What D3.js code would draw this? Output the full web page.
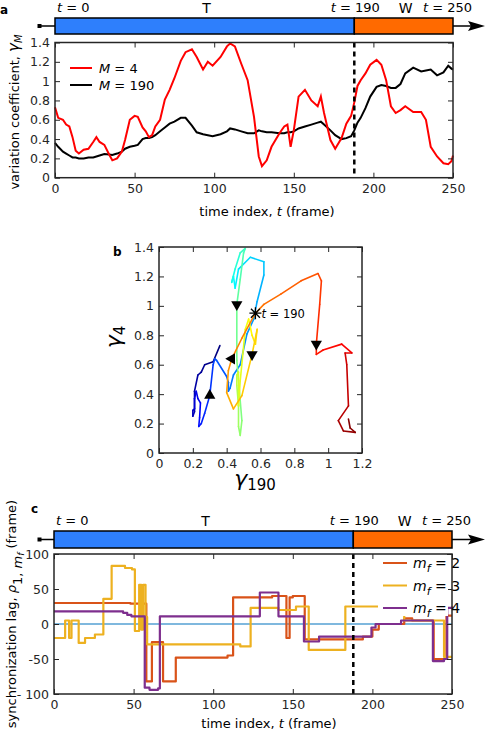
<!DOCTYPE html>
<html>
<head>
<meta charset="utf-8">
<script src="https://cdn.jsdelivr.net/npm/d3@7"></script>
<style>
  body { margin: 0; background: #fff; }
  svg { font-family: "DejaVu Sans", sans-serif; }
</style>
</head>
<body>
<div id="chart"></div>
<script>
// Time index shared by panel a and panel b
const frames = [0, 2, 5, 7, 9, 11, 13, 15, 18, 21, 24, 26, 28, 31, 34, 36, 39, 42, 44, 47, 50, 52, 55, 57, 59, 61, 63, 66, 69, 72, 75, 79, 82, 86, 89, 93, 96, 99, 104, 108, 110, 113, 117, 121, 125, 128, 130, 133, 136, 141, 144, 146, 148, 150, 153, 157, 161, 165, 167, 169, 173, 176, 180, 183, 186, 188, 190, 192, 195, 198, 202, 205, 208, 211, 214, 217, 220, 225, 230, 233, 236, 240, 244, 247, 249, 250]

// variation coefficient, M = 4
const gamma4 = [0.73, 0.62, 0.60, 0.55, 0.53, 0.42, 0.28, 0.25, 0.29, 0.30, 0.37, 0.42, 0.37, 0.34, 0.24, 0.18, 0.20, 0.27, 0.39, 0.60, 0.64, 0.63, 0.52, 0.48, 0.42, 0.44, 0.53, 0.60, 0.81, 0.91, 1.03, 1.21, 1.30, 1.33, 1.25, 1.12, 1.20, 1.16, 1.25, 1.36, 1.39, 1.36, 1.18, 1.01, 0.63, 0.22, 0.12, 0.18, 0.32, 0.46, 0.53, 0.55, 0.32, 0.49, 0.84, 0.91, 0.80, 0.74, 0.84, 0.67, 0.39, 0.30, 0.41, 0.56, 0.64, 0.78, 0.95, 1.01, 1.08, 1.17, 1.22, 1.17, 1.01, 0.74, 0.67, 0.70, 0.74, 0.68, 0.68, 0.60, 0.32, 0.22, 0.15, 0.14, 0.17, 0.23]

// variation coefficient, M = 190
const gamma190 = [0.36, 0.32, 0.27, 0.25, 0.23, 0.21, 0.21, 0.20, 0.20, 0.21, 0.21, 0.22, 0.23, 0.245, 0.24, 0.235, 0.25, 0.27, 0.30, 0.32, 0.33, 0.34, 0.40, 0.41, 0.41, 0.42, 0.44, 0.48, 0.52, 0.56, 0.58, 0.62, 0.62, 0.54, 0.47, 0.45, 0.44, 0.43, 0.45, 0.48, 0.51, 0.50, 0.48, 0.46, 0.46, 0.49, 0.48, 0.47, 0.47, 0.46, 0.46, 0.47, 0.47, 0.48, 0.51, 0.53, 0.55, 0.57, 0.58, 0.55, 0.49, 0.44, 0.40, 0.41, 0.43, 0.49, 0.57, 0.62, 0.72, 0.84, 0.94, 0.96, 0.95, 0.93, 0.93, 0.97, 1.08, 1.14, 1.10, 1.11, 1.12, 1.06, 1.09, 1.16, 1.13, 1.12]

// Phases shown in the time bar
const phaseStart = [0, 188]
const phaseEnd = [188, 250]
const phaseNames = ['T', 'W']
const phaseColors = ['#2e7ffc', '#ff6a00']
const markLabels = ['0', '190', '250']
const markTimes = [0, 188, 250]

// Direction markers in panel b (frame index, pointing angle)
const arrowFrames = [44, 121, 169, 186, 211]
const arrowAngles = [0, 180, 180, -90, 180]
const starFrame = 190

// Synchronization lag, panel c (step change points)
const lagT2 = [0, 48, 58, 61.5, 68.5, 76.5, 109, 112.5, 137, 146, 148, 150, 157.5, 194, 200, 204, 220, 225, 238.5, 246.5, 250]
const lag2 = [30, 29, -82, -26, -82, -48, -45, 38, 40, -20, 38, 40, -22, -18, -8, 0, 8, 5, -50, 12, 12]
const lagT3 = [0, 7, 9.5, 11, 15.5, 19.5, 25.7, 31, 36.2, 44.6, 49, 50.8, 53.5, 54.8, 56, 57.5, 58.5, 117, 123.5, 141, 152, 160, 183, 215, 220, 245, 250]
const lag3 = [-20, 5, -20, 5, -27, -20, -15, 36, 83, 80, 78, -10, 56, -8, 56, 10, -29, -32, 23, 20, 25, -37, 25, 15, 5, -47, -47]
const lagT4 = [0, 43.4, 46, 48.6, 57, 60, 65.4, 66.5, 129.3, 141, 157, 166.5, 199.4, 202, 218, 238, 245, 247, 250]
const lag4 = [18, 16, 13, 11, -91, -94, -92, 11, 45, 11, -25, -18, -5, 0, 5, -53, -50, 23, 25]
const lagNames = ['2', '3', '4']
const lagColors = ['#d95319', '#edb120', '#7e2f8e']

const width = 486
const height = 734
const axisColor = '#262626'

const svg = d3.select('#chart').append('svg').attr('width', width).attr('height', height)

// jet colour map (MATLAB style)
const jet = v => {
  const c = k => Math.round(255 * Math.max(0, Math.min(1, 1.5 - Math.abs(4 * v - k))))
  return d3.rgb(c(3), c(2), c(1)).formatHex()
}

// Box with inward ticks on all sides
function drawFrame(g, x, y, xTicks, yTicks, xFmt, yFmt, m) {
  g.append('g')
    .attr('transform', `translate(0,${m.bottom})`)
    .call(d3.axisBottom(x).tickValues(xTicks).tickSize(-5).tickSizeOuter(0).tickPadding(6).tickFormat(xFmt))
  g.append('g')
    .attr('transform', `translate(0,${m.top})`)
    .call(d3.axisTop(x).tickValues(xTicks).tickSize(-5).tickSizeOuter(0).tickFormat(''))
  g.append('g')
    .attr('transform', `translate(${m.left},0)`)
    .call(d3.axisLeft(y).tickValues(yTicks).tickSize(-5).tickSizeOuter(0).tickPadding(5).tickFormat(yFmt))
  g.append('g')
    .attr('transform', `translate(${m.right},0)`)
    .call(d3.axisRight(y).tickValues(yTicks).tickSize(-5).tickSizeOuter(0).tickFormat(''))
  g.selectAll('.domain').remove()
  g.selectAll('.tick line').attr('stroke', axisColor).attr('stroke-width', 1)
  g.selectAll('.tick text').attr('fill', axisColor).style('font-size', '12.5px').style('font-family', '"DejaVu Sans", sans-serif')
  g.append('rect')
    .attr('x', m.left).attr('y', m.top)
    .attr('width', m.right - m.left).attr('height', m.bottom - m.top)
    .attr('fill', 'none').attr('stroke', axisColor).attr('stroke-width', 1.5)
}

// Time bar with arrow above panels a and c
function drawTimeBar(g, x, y0, y1, labelY) {
  const mid = (y0 + y1) / 2
  g.append('line').attr('x1', 39).attr('x2', 474).attr('y1', mid).attr('y2', mid)
    .attr('stroke', '#000').attr('stroke-width', 1.5)
  g.append('rect').attr('x', 37.5).attr('y', mid - 2).attr('width', 4).attr('height', 4).attr('fill', '#000')
  g.append('path')
    .attr('d', `M468,${mid - 5}L485,${mid}L468,${mid + 5}L471,${mid}Z`)
    .attr('fill', '#000')
  g.selectAll('rect.phase')
    .data(phaseStart)
    .enter().append('rect')
      .attr('class', 'phase')
      .attr('x', (d, i) => x(d))
      .attr('y', y0)
      .attr('width', (d, i) => x(phaseEnd[i]) - x(d))
      .attr('height', y1 - y0)
      .attr('fill', (d, i) => phaseColors[i])
      .attr('stroke', '#000')
      .attr('stroke-width', 1.5)
  g.selectAll('text.phase')
    .data(phaseNames)
    .enter().append('text')
      .attr('x', (d, i) => x((phaseStart[i] + phaseEnd[i]) / 2) + 2)
      .attr('y', labelY + 1)
      .attr('text-anchor', 'middle')
      .style('font-size', '14px')
      .text(d => d)
  const anchors = ['start', 'middle', 'end']
  const offsets = [2, 1, 19]
  const tl = g.selectAll('text.mark')
    .data(markLabels)
    .enter().append('text')
      .attr('x', (d, i) => x(markTimes[i]) + offsets[i])
      .attr('y', labelY)
      .attr('text-anchor', (d, i) => anchors[i])
      .style('font-size', '13px')
  tl.append('tspan').style('font-style', 'italic').text('t')
  tl.append('tspan').text(d => ' = ' + d)
}

// ---------- Panel a ----------
const ma = { left: 55, right: 453, top: 42.5, bottom: 177.7 }
const xa = d3.scaleLinear().domain([0, 250]).range([ma.left, ma.right])
const ya = d3.scaleLinear().domain([0, 1.4]).range([ma.bottom, ma.top])
const ga = svg.append('g')

drawTimeBar(ga, xa, 18, 34, 11.5)

const lineA = vals => d3.line().x((d, i) => xa(frames[i])).y(d => ya(d))(vals)
ga.append('path').attr('d', lineA(gamma190)).attr('fill', 'none').attr('stroke', '#000').attr('stroke-width', 2)
ga.append('path').attr('d', lineA(gamma4)).attr('fill', 'none').attr('stroke', '#ff0000').attr('stroke-width', 2)

ga.append('line')
  .attr('x1', xa(phaseEnd[0])).attr('x2', xa(phaseEnd[0]))
  .attr('y1', ma.top).attr('y2', ma.bottom)
  .attr('stroke', '#000').attr('stroke-width', 2.5).attr('stroke-dasharray', '5,4')

drawFrame(ga, xa, ya, d3.range(0, 251, 50), d3.range(0, 1.41, 0.2), d3.format('d'), d3.format('~g'), ma)

// Legend a
const legA = [['4', '#ff0000'], ['190', '#000']]
legA.forEach((d, i) => {
  const ly = 68 + i * 17
  ga.append('line').attr('x1', 70).attr('x2', 92).attr('y1', ly).attr('y2', ly).attr('stroke', d[1]).attr('stroke-width', 2)
  const t = ga.append('text').attr('x', 99).attr('y', ly + 5).style('font-size', '13px')
  t.append('tspan').style('font-style', 'italic').text('M')
  t.append('tspan').text(' = ' + d[0])
})

// Axis labels a
const xlabA = ga.append('text').attr('x', 267).attr('y', 216).attr('text-anchor', 'middle').style('font-size', '13px')
xlabA.append('tspan').text('time index, ')
xlabA.append('tspan').style('font-style', 'italic').text('t')
xlabA.append('tspan').text(' (frame)')
const ylabA = ga.append('text').attr('transform', 'translate(19,112) rotate(-90)').attr('text-anchor', 'middle').style('font-size', '13px')
ylabA.append('tspan').text('variation coefficient, ')
ylabA.append('tspan').style('font-style', 'italic').style('font-size', '15px').text('γ')
ylabA.append('tspan').attr('dy', 3).style('font-style', 'italic').style('font-size', '10px').text('M')
ga.append('text').attr('x', 0).attr('y', 14).style('font-weight', 'bold').style('font-size', '12px').text('a')

// ---------- Panel b ----------
const mb = { left: 159, right: 362, top: 247, bottom: 453 }
const xb = d3.scaleLinear().domain([0, 1.2]).range([mb.left, mb.right])
const yb = d3.scaleLinear().domain([0, 1.4]).range([mb.bottom, mb.top])
const gb = svg.append('g')

const pts = frames.map((f, i) => [f, gamma190[i], gamma4[i]])
gb.append('g')
    .attr('fill', 'none')
    .attr('stroke-width', 1.6)
    .attr('stroke-linecap', 'round')
  .selectAll('line')
  .data(d3.pairs(pts))
  .enter().append('line')
    .attr('x1', d => xb(d[0][1]))
    .attr('y1', d => yb(d[0][2]))
    .attr('x2', d => xb(d[1][1]))
    .attr('y2', d => yb(d[1][2]))
    .attr('stroke', d => jet(d[0][0] / 250))

gb.selectAll('path.dir')
  .data(arrowFrames)
  .enter().append('path')
    .attr('class', 'dir')
    .attr('d', d3.symbol(d3.symbolTriangle, 55))
    .attr('transform', (d, i) => {
      const k = frames.indexOf(d)
      return `translate(${xb(gamma190[k])},${yb(gamma4[k])}) rotate(${arrowAngles[i]})`
    })
    .attr('fill', '#000')

const ks = frames.indexOf(starFrame)
const sx = xb(gamma190[ks])
const sy = yb(gamma4[ks])
gb.append('path')
  .attr('d', `M${sx - 6},${sy}H${sx + 6}M${sx},${sy - 6}V${sy + 6}M${sx - 4.5},${sy - 4.5}L${sx + 4.5},${sy + 4.5}M${sx - 4.5},${sy + 4.5}L${sx + 4.5},${sy - 4.5}`)
  .attr('stroke', '#000').attr('stroke-width', 1.3)
const st = gb.append('text').attr('x', sx + 6).attr('y', sy + 5).style('font-size', '11.5px')
st.append('tspan').style('font-style', 'italic').text('t')
st.append('tspan').text(' = ' + starFrame)

drawFrame(gb, xb, yb, d3.range(0, 1.21, 0.2), d3.range(0, 1.41, 0.2), d3.format('~g'), d3.format('~g'), mb)

const xlabB = gb.append('text').attr('x', 255).attr('y', 486).attr('text-anchor', 'middle')
xlabB.append('tspan').style('font-size', '22px').style('font-style', 'italic').text('γ')
xlabB.append('tspan').attr('dy', 4).style('font-size', '15px').text('190')
const ylabB = gb.append('text').attr('transform', 'translate(121,337) rotate(-90)').attr('text-anchor', 'middle')
ylabB.append('tspan').style('font-size', '22px').style('font-style', 'italic').text('γ')
ylabB.append('tspan').attr('dy', 4).style('font-size', '15px').text('4')
gb.append('text').attr('x', 113).attr('y', 256).style('font-weight', 'bold').style('font-size', '12px').text('b')

// ---------- Panel c ----------
const mc = { left: 54, right: 452, top: 554, bottom: 694 }
const xc = d3.scaleLinear().domain([0, 250]).range([mc.left, mc.right])
const yc = d3.scaleLinear().domain([-100, 100]).range([mc.bottom, mc.top])
const gc = svg.append('g')

drawTimeBar(gc, xc, 531, 548, 525)

gc.append('line')
  .attr('x1', xc(0)).attr('x2', xc(250)).attr('y1', yc(0)).attr('y2', yc(0))
  .attr('stroke', '#0072bd').attr('stroke-width', 1.2)

const lagSeries = [[lagT2, lag2], [lagT3, lag3], [lagT4, lag4]]
const stepLine = d3.line().curve(d3.curveStepAfter).x(d => xc(d[0])).y(d => yc(d[1]))
lagSeries.forEach((s, i) => {
  gc.append('path')
    .attr('d', stepLine(s[0].map((t, j) => [t, s[1][j]])))
    .attr('fill', 'none')
    .attr('stroke', lagColors[i])
    .attr('stroke-width', 2.2)
    .attr('stroke-linejoin', 'round')
})

gc.append('line')
  .attr('x1', xc(phaseEnd[0])).attr('x2', xc(phaseEnd[0]))
  .attr('y1', mc.top).attr('y2', mc.bottom)
  .attr('stroke', '#000').attr('stroke-width', 2.5).attr('stroke-dasharray', '5,4')

drawFrame(gc, xc, yc, d3.range(0, 251, 50), d3.range(-100, 101, 50), d3.format('d'), d => d === -100 ? '- 100' : d, mc)

// Legend c (white box under it, no edge)
gc.append('rect').attr('x', 378).attr('y', 556).attr('width', 70).attr('height', 60).attr('fill', '#fff')
lagNames.forEach((d, i) => {
  const ly = 563 + i * 22.5
  gc.append('line').attr('x1', 383).attr('x2', 407).attr('y1', ly).attr('y2', ly).attr('stroke', lagColors[i]).attr('stroke-width', 2)
  const t = gc.append('text').attr('x', 413).attr('y', ly + 5).style('font-size', '14px')
  t.append('tspan').style('font-style', 'italic').text('m')
  t.append('tspan').attr('dy', 4).style('font-style', 'italic').style('font-size', '11px').text('f')
  t.append('tspan').attr('dy', -4).text(' = ' + d)
})

const xlabC = gc.append('text').attr('x', 269).attr('y', 728).attr('text-anchor', 'middle').style('font-size', '13px')
xlabC.append('tspan').text('time index, ')
xlabC.append('tspan').style('font-style', 'italic').text('t')
xlabC.append('tspan').text(' (frame)')
const ylabC = gc.append('text').attr('transform', 'translate(16,614) rotate(-90)').attr('text-anchor', 'middle').style('font-size', '13px')
ylabC.append('tspan').text('synchronization lag, ')
ylabC.append('tspan').style('font-style', 'italic').text('ρ')
ylabC.append('tspan').attr('dy', 6).text('1, ')
ylabC.append('tspan').style('font-style', 'italic').text('m')
ylabC.append('tspan').attr('dy', 2).style('font-style', 'italic').style('font-size', '9px').text('f')
ylabC.append('tspan').attr('dy', -8).text('  (frame)')
gc.append('text').attr('x', 31).attr('y', 513).style('font-weight', 'bold').style('font-size', '12px').text('c')
</script>
</body>
</html>
